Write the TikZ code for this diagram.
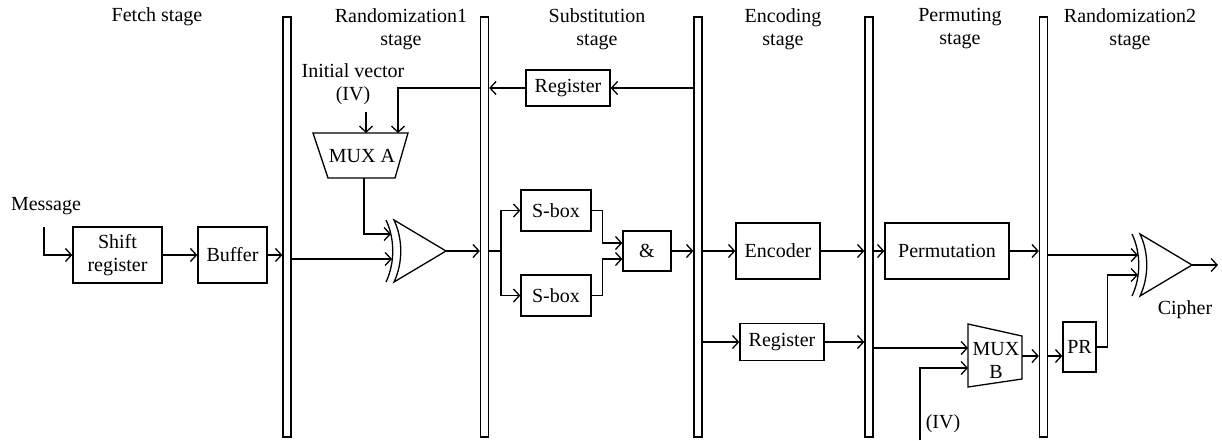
\documentclass[tikz,border=0pt]{standalone}
\usepackage{fontspec}
\setmainfont{Liberation Serif}
\usetikzlibrary{arrows.meta,calc}
\begin{document}
\begin{tikzpicture}[x=1pt,y=-1pt,
  line width=1.3pt,
  >={Straight Barb[length=6pt,width=13pt]},
  every node/.style={font=\fontsize{20}{23}\selectfont, inner sep=0pt},
  blk/.style={draw, align=center},
  bar/.style={draw, minimum width=8pt, minimum height=420pt},
  lbl/.style={align=center},
  xorg/.pic={
    \draw (0,-31) .. controls (9,-12) and (9,12) .. (0,31);
    \draw (8,-31) .. controls (17,-12) and (17,12) .. (8,31) -- (60,0) -- cycle;
    \coordinate (-o) at (60,0);
  }]
\useasboundingbox (0,0) rectangle (1222,440);

% stage labels
\node[lbl] (l1) at (157,17) {Fetch stage};
\node[lbl] (l2) at (401,29) {Randomization1\\stage};
\node[lbl] (l3) at (597,29) {Substitution\\stage};
\node[lbl] (l4) at (783,29) {Encoding\\stage};
\node[lbl] (l5) at (960,29) {Permuting\\stage};
\node[lbl] (l6) at (1130,29) {Randomization2\\stage};

% pipeline bars
\node[bar] (b1) at (287,227) {};
\node[bar] (b2) at (484.5,227) {};
\node[bar] (b3) at (698,227) {};
\node[bar] (b4) at (869,227) {};
\node[bar] (b5) at (1043.5,227) {};

% fetch stage
\node (msg) at (46,206) {Message};
\coordinate (msgin) at (44,227);
\node[blk, minimum width=89pt, minimum height=56pt] (sr) at (117.5,255) {Shift\\register};
\node[blk, minimum width=69pt, minimum height=56pt] (buf) at (232.5,255) {Buffer};
\draw[->] (msgin) |- (sr.west);
\draw[->] (sr) -- (buf);
\draw[->] (buf.east) -- (buf.east -| b1.west);

% randomization1 stage
\node[lbl] (iv1) at (353,84) {Initial vector\\(IV)};
\coordinate (ivs) at (366,112);
\draw (313,133) -- (408,133) -- (395,178) -- (328,178) -- cycle;
\node (muxa) at (362,156) {MUX A};
\coordinate (muxaiv) at (366,133);
\coordinate (muxafb) at (398,133);
\coordinate (muxaout) at (364,178);
\draw[->] (ivs) -- (muxaiv);
\pic (x1) at (386,251) {xorg};
\coordinate (x1a) at (391,234);
\coordinate (x1b) at (392,259);
\draw[->] (muxaout) |- (x1a);
\draw[->] (x1b -| b1.east) -- (x1b);
\draw[->] (x1-o) -- (x1-o -| b2.west);

% substitution stage
\node[blk, minimum width=84pt, minimum height=36pt] (reg1) at (568,88) {Register};
\draw[->] (reg1.east -| b3.west) -- (reg1.east);
\draw[->] (reg1.west) -- (reg1.west -| b2.east);
\draw[->] (reg1.west -| b2.west) -| (muxafb);
\node[blk, minimum width=70pt, minimum height=41pt] (sb1) at (556,210.5) {S-box};
\node[blk, minimum width=70pt, minimum height=41pt] (sb2) at (556,295.5) {S-box};
\node[blk, minimum width=48pt, minimum height=40pt] (and) at (647,251) {\&};
\coordinate (sp) at (501,251);
\coordinate (andi1) at (and.west |- 0,243);
\coordinate (andi2) at (and.west |- 0,259);
\draw (x1-o -| b2.east) -- (sp);
\draw[->] (sp) |- (sb1.west);
\draw[->] (sp) |- (sb2.west);
\draw[->] (sb1.east) -- ++(11,0) |- (andi1);
\draw[->] (sb2.east) -- ++(11,0) |- (andi2);
\draw[->] (and.east) -- (and.east -| b3.west);

% encoding stage
\node[blk, minimum width=84pt, minimum height=56pt] (enc) at (778,251) {Encoder};
\node[blk, minimum width=84pt, minimum height=37pt] (reg2) at (782,342) {Register};
\draw[->] (enc.west -| b3.east) -- (enc.west);
\draw[->] (enc.east) -- (enc.east -| b4.west);
\draw[->] (reg2.west -| b3.east) -- (reg2.west);
\draw[->] (reg2.east) -- (reg2.east -| b4.west);

% permuting stage
\node[blk, minimum width=124pt, minimum height=56pt] (perm) at (947,251) {Permutation};
\draw[->] (perm.west -| b4.east) -- (perm.west);
\draw[->] (perm.east) -- (perm.east -| b5.west);
\draw (968,324) -- (1022,336) -- (1022,379) -- (968,387) -- cycle;
\node[lbl] (muxb) at (996,360) {MUX\\B};
\coordinate (muxbi1) at (968,348);
\coordinate (muxbi2) at (968,368);
\coordinate (muxbo) at (1022,356);
\coordinate (ivb) at (920,440);
\node (iv2) at (943,424) {(IV)};
\draw[->] (muxbi1 -| b4.east) -- (muxbi1);
\draw[->] (ivb) |- (muxbi2);
\draw[->] (muxbo) -- (muxbo -| b5.west);

% randomization2 stage
\node[blk, minimum width=33pt, minimum height=50pt] (pr) at (1079.5,347) {PR};
\draw[->] (muxbo -| b5.east) -- (muxbo -| pr.west);
\pic (x2) at (1132,265) {xorg};
\coordinate (x2a) at (1138,255);
\coordinate (x2b) at (1138,275);
\draw[->] (x2a -| b5.east) -- (x2a);
\draw[->] (pr.east) -- ++(11,0) |- (x2b);
\coordinate (cout) at (1218,265);
\draw[->] (x2-o) -- (cout);
\node (ciph) at (1185,310) {Cipher};
\end{tikzpicture}
\end{document}
